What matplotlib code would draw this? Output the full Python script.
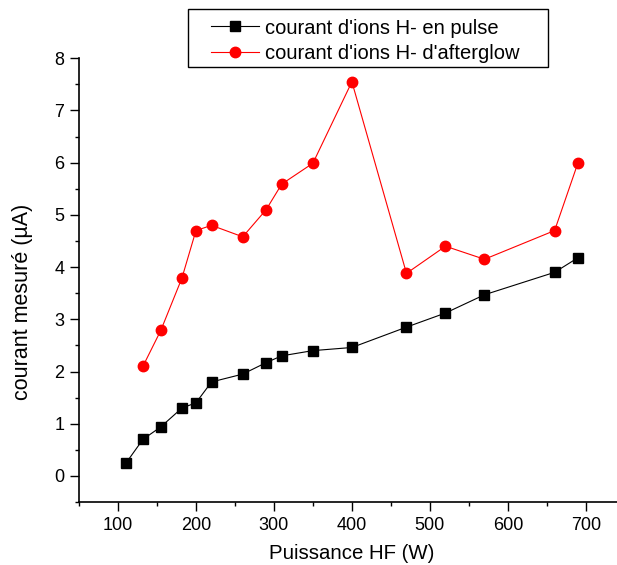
import matplotlib
matplotlib.use("Agg")
import matplotlib.pyplot as plt
from matplotlib.ticker import MultipleLocator
from matplotlib.patches import Rectangle

# ── Data ──────────────────────────────────────────────────────────────────────
puissance_pulse = [110, 132, 155, 182, 200, 220, 260, 290, 310, 350, 400, 470, 520, 570, 660, 690]
courant_pulse = [0.24, 0.70, 0.94, 1.30, 1.40, 1.80, 1.95, 2.17, 2.30, 2.40, 2.46, 2.85, 3.12, 3.47, 3.90, 4.18]

puissance_after = [132, 155, 182, 200, 220, 260, 290, 310, 350, 400, 470, 520, 570, 660, 690]
courant_after = [2.10, 2.79, 3.79, 4.70, 4.80, 4.58, 5.10, 5.59, 5.99, 7.55, 3.88, 4.40, 4.15, 4.70, 6.00]

plt.rcParams["font.family"] = ["Liberation Sans", "DejaVu Sans"]

W, H = 617, 565
fig = plt.figure(figsize=(W / 100, H / 100), dpi=100)
ax = fig.add_axes([79 / W, 1 - 502 / H, (W - 79) / W, (502 - 58.3) / H])

ax.plot(puissance_pulse, courant_pulse, color="black", lw=0.8, marker="s", ms=6.5,
        label="courant d'ions H- en pulse")
ax.plot(puissance_after, courant_after, color="red", lw=0.8, marker="o", ms=7.5,
        label="courant d'ions H- d'afterglow")

ax.set_xlim(50, 740)
ax.set_ylim(-0.5, 8)
ax.xaxis.set_minor_locator(MultipleLocator(50))
ax.yaxis.set_major_locator(MultipleLocator(1))
ax.yaxis.set_minor_locator(MultipleLocator(0.5))
ax.set_xticks(range(100, 701, 100))
ax.tick_params(which="major", direction="out", length=6.5, width=1, labelsize=13, pad=4)
ax.tick_params(which="minor", direction="out", length=3.2, width=1)

for s in ("top", "right"):
    ax.spines[s].set_visible(False)
for s in ("left", "bottom"):
    ax.spines[s].set_linewidth(1.2)

ax.set_xlabel("Puissance HF (W)", fontsize=14.7)
ax.xaxis.set_label_coords(0.506, -0.095)
ax.set_ylabel("courant mesuré (µA)", fontsize=15.5)
ax.yaxis.set_label_coords(-0.086, 0.45)

# legend: framed box drawn separately (Origin-style)
fig.patches.append(Rectangle((187.5 / W, 1 - 67 / H), 360.5 / W, 58.5 / H,
                             transform=fig.transFigure, facecolor="white",
                             edgecolor="black", lw=1, zorder=6))
leg = ax.legend(loc="upper left", bbox_to_anchor=(211 / W, 1 - 18.5 / H),
                bbox_transform=fig.transFigure, fontsize=14.5, frameon=False,
                borderaxespad=0, borderpad=0, handlelength=2.4,
                handletextpad=0.3, labelspacing=0.31)
leg.set_zorder(7)
leg.remove()
fig.legends.append(leg)
leg.set_figure(fig)

fig.savefig("out.png", dpi=100)
